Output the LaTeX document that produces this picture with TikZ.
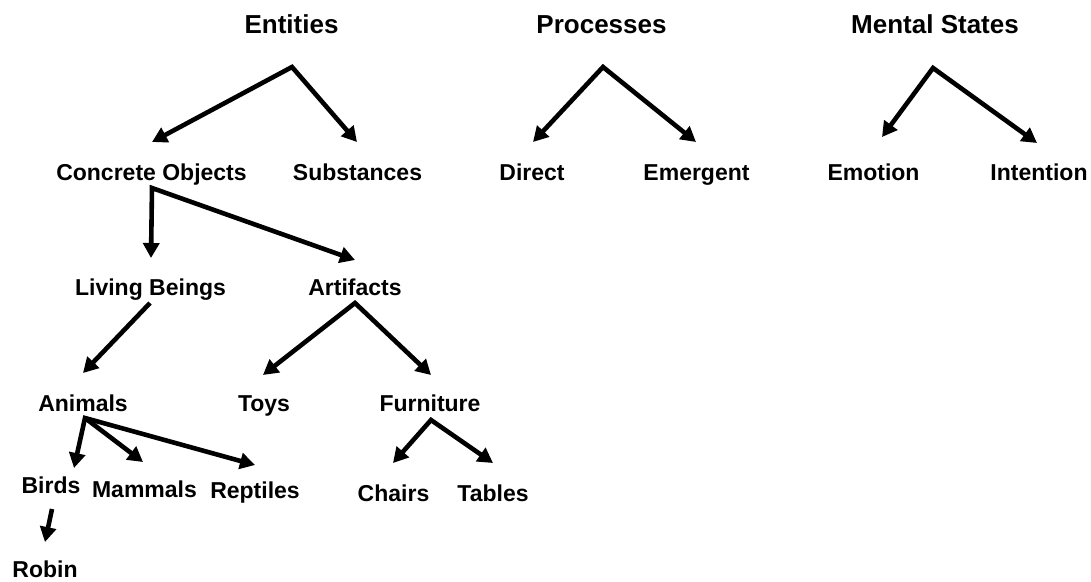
\documentclass[tikz,border=0pt]{standalone}
\usepackage{fontspec}
\setmainfont{Liberation Sans}
\usetikzlibrary{arrows.meta}
\tikzset{
  title/.style={font=\fontsize{26}{30}\selectfont\bfseries, anchor=base, inner sep=0pt},
  lbl/.style={font=\fontsize{23}{27}\selectfont\bfseries, anchor=base, inner sep=0pt},
  link/.style={line width=4.6pt, line join=miter, -{Triangle[length=15pt,width=16pt]}},
  fork/.style={line width=4.6pt, line join=miter, {Triangle[length=15pt,width=16pt]}-{Triangle[length=15pt,width=16pt]}}
}
\begin{document}
\begin{tikzpicture}[x=1pt,y=1pt]
\useasboundingbox (0,0) rectangle (1091,-581);

% category headings
\node[title] (ent)  at (291.5,-33) {Entities};
\node[title] (proc) at (601.5,-33) {Processes};
\node[title] (ment) at (935,-33) {Mental States};

% second level
\node[lbl] (conc) at (151.5,-180) {Concrete Objects};
\node[lbl] (subs) at (357.5,-180) {Substances};
\node[lbl] (dir)  at (532,-180) {Direct};
\node[lbl] (emg)  at (696.5,-180) {Emergent};
\node[lbl] (emo)  at (873.5,-180) {Emotion};
\node[lbl] (int)  at (1039,-180) {Intention};

% third level
\node[lbl] (liv) at (150.5,-295) {Living Beings};
\node[lbl] (art) at (355,-295) {Artifacts};

% fourth level
\node[lbl] (ani) at (83,-411) {Animals};
\node[lbl] (toy) at (264,-411) {Toys};
\node[lbl] (fur) at (430,-411) {Furniture};

% leaves
\node[lbl] (bird) at (51,-493) {Birds};
\node[lbl] (mam)  at (144.5,-497) {Mammals};
\node[lbl] (rep)  at (255,-498) {Reptiles};
\node[lbl] (chr)  at (393.5,-501) {Chairs};
\node[lbl] (tab)  at (493,-501) {Tables};
\node[lbl] (rob)  at (45,-577) {Robin};

% branch points and arrow tips
\coordinate (ent-a)  at (292,-67);
\coordinate (proc-a) at (603,-67);
\coordinate (ment-a) at (933,-68);
\coordinate (conc-t) at (152,-142);
\coordinate (subs-t) at (357,-142);
\coordinate (dir-t)  at (533,-142);
\coordinate (emg-t)  at (696,-142);
\coordinate (emo-t)  at (882,-137);
\coordinate (int-t)  at (1037,-143);
\coordinate (conc-a) at (152,-188);
\coordinate (liv-t)  at (151,-258);
\coordinate (art-t)  at (355,-260);
\coordinate (liv-a)  at (150,-303);
\coordinate (ani-t)  at (83,-373);
\coordinate (art-a)  at (355,-303);
\coordinate (toy-t)  at (263,-375);
\coordinate (fur-t)  at (431,-375);
\coordinate (ani-a)  at (85,-418);
\coordinate (bird-t) at (74,-468);
\coordinate (mam-t)  at (143,-462);
\coordinate (rep-t)  at (255,-465);
\coordinate (fur-a)  at (431,-420);
\coordinate (chr-t)  at (393,-463);
\coordinate (tab-t)  at (493,-463);
\coordinate (bird-a) at (52,-509);
\coordinate (rob-t)  at (45,-542);

% connectors
\draw[fork] (conc-t) -- (ent-a) -- (subs-t);
\draw[fork] (dir-t) -- (proc-a) -- (emg-t);
\draw[fork] (emo-t) -- (ment-a) -- (int-t);
\draw[fork] (liv-t) -- (conc-a) -- (art-t);
\draw[link] (liv-a) -- (ani-t);
\draw[fork] (toy-t) -- (art-a) -- (fur-t);
\draw[fork] (bird-t) -- (ani-a) -- (rep-t);
\draw[link] (ani-a) -- (mam-t);
\draw[fork] (chr-t) -- (fur-a) -- (tab-t);
\draw[link] (bird-a) -- (rob-t);
\end{tikzpicture}
\end{document}
